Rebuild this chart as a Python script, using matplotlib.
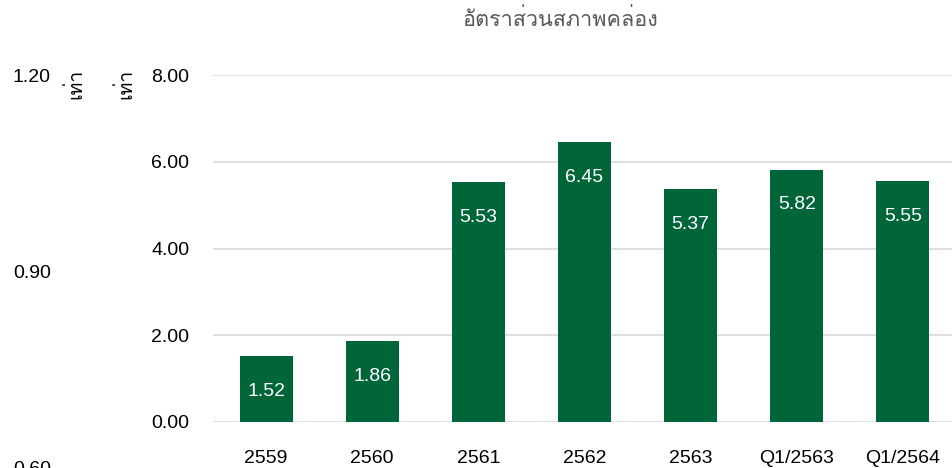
import matplotlib
matplotlib.use("Agg")
import matplotlib.pyplot as plt
from matplotlib import font_manager

categories = ["2559", "2560", "2561", "2562", "2563", "Q1/2563", "Q1/2564"]
ratios = [1.52, 1.86, 5.53, 6.45, 5.37, 5.82, 5.55]
main_ticks = [0, 2, 4, 6, 8]
left_ticks = [0.60, 0.90, 1.20]
title = "อัตราส่วนสภาพคล่อง"
unit = "เท่า"

# pick a font that has Thai glyphs if there is one
thai = []
for f in font_manager.fontManager.ttflist:
    n = f.name
    if ("Thai" in n or "Tlwg" in n or n in ("Loma", "Garuda", "Norasi", "Kinnari", "Waree", "Sawasdee", "Umpush", "Purisa")) and n not in thai:
        thai.append(n)
plt.rcParams['font.family'] = ["Liberation Sans"] + thai + ["DejaVu Sans"]

green = "#00663A"
fs = 14
fig = plt.figure(figsize=(9.53, 4.68), dpi=100)
ax = fig.add_axes([213 / 953, 1 - 422 / 468, 743 / 953, (422 - 75) / 468])
ax.bar(range(len(categories)), ratios, width=0.5, color=green, zorder=2)
ax.set_xlim(-0.5, len(categories) - 0.5)
ax.set_ylim(0, 8)
ax.set_yticks(main_ticks)
ax.set_yticklabels([f"{t:.2f}" for t in main_ticks], fontsize=fs)
ax.set_xticks(range(len(categories)))
ax.set_xticklabels(categories, fontsize=fs)
ax.grid(axis='y', color="#d9d9d9", linewidth=1.2, zorder=0)
for s in ax.spines.values():
    s.set_visible(False)
ax.tick_params(axis='y', length=0, pad=17)
ax.tick_params(axis='x', length=0, pad=20)

for i, v in enumerate(ratios):
    ax.annotate(f"{v:.2f}", (i, v), xytext=(0, -25.5), textcoords="offset points",
                ha='center', va='center', color="white", fontsize=fs)

fig.text(560 / 953, 1 - 20 / 468, title, ha='center', va='center', fontsize=15.5, color="#595959")

# stray secondary axis on the left
ax2 = fig.add_axes([55 / 953, 1 - 467 / 468, 0.001, (467 - 75) / 468])
ax2.set_ylim(0.6, 1.2)
ax2.set_yticks(left_ticks)
ax2.set_yticklabels([f"{t:.2f}" for t in left_ticks], fontsize=fs)
ax2.set_xticks([])
ax2.tick_params(axis='y', length=0, pad=3)
for s in ax2.spines.values():
    s.set_visible(False)
ax2.patch.set_visible(False)

fig.text(75 / 953, 1 - 84 / 468, unit, rotation=90, ha='center', va='center', fontsize=14)
fig.text(125 / 953, 1 - 84 / 468, unit, rotation=90, ha='center', va='center', fontsize=14)

fig.savefig("out.png", dpi=100)
